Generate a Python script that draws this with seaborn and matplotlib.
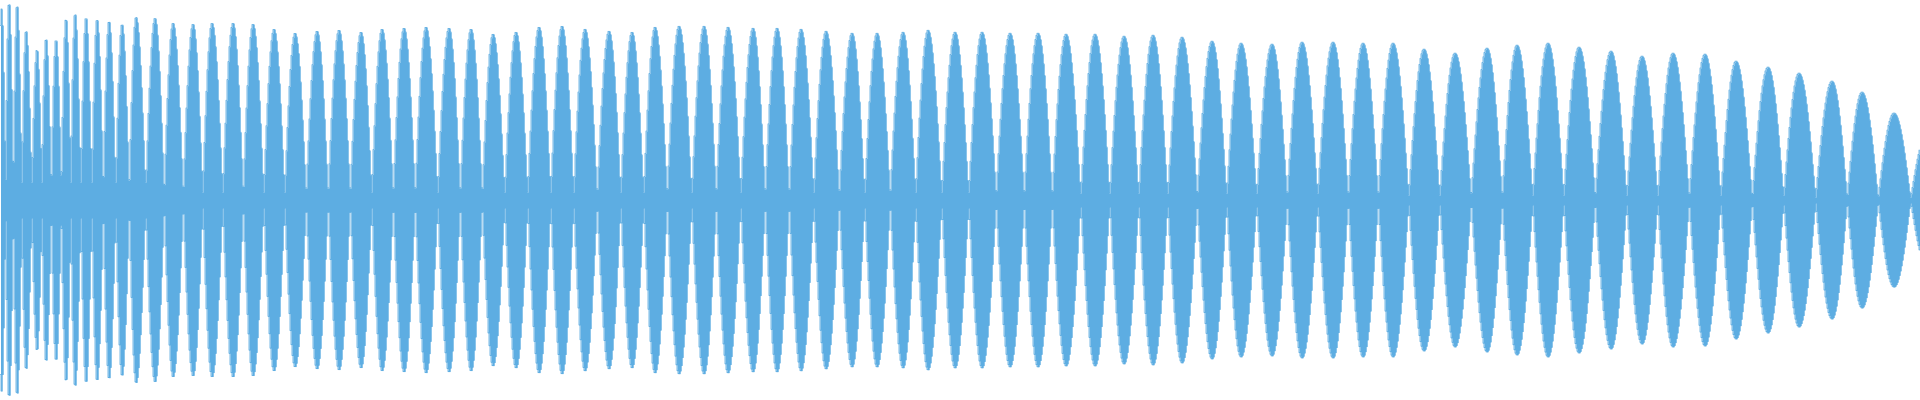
#!/usr/bin/env python3

""" Waveform envelope (per-column peak amplitude), symmetric around zero
"""

import numpy as np
import pandas as pd
import seaborn as sns
import matplotlib
matplotlib.use("Agg")
import matplotlib.pyplot as plt

#########################################################
### Data ###
#########################################################

# Column of each lobe's peak (pixel column, 0..1919)
lobe_x = [1.5, 9, 17, 26, 37, 46, 56, 66, 75, 86, 97, 109, 122, 136, 155,
          173, 193, 212, 233, 253, 274, 295, 317, 339, 361, 382, 404,
          426, 449, 471, 493, 516, 539, 562, 585, 609, 632, 655, 679,
          704, 728, 753, 777, 801,
          826, 852, 877, 903, 928, 955, 982,
          1010, 1038, 1066, 1095, 1124, 1153, 1182, 1212, 1241, 1272, 1302, 1333,
          1363, 1393, 1424, 1455, 1487, 1517, 1548, 1579, 1611, 1642, 1673, 1705,
          1736, 1768, 1799, 1832, 1862, 1894, 1927]

# Peak amplitude of each lobe (1.0 = full half-height)
lobe_amp = [0.955, 0.995, 0.98, 0.85, 0.755, 0.81, 0.805, 0.91, 0.935, 0.915, 0.905, 0.895, 0.88, 0.915, 0.91,
            0.885, 0.88, 0.885, 0.885, 0.88, 0.855, 0.835, 0.845, 0.85, 0.84, 0.855, 0.86,
            0.865, 0.86, 0.855, 0.83, 0.84, 0.865, 0.87, 0.855, 0.845, 0.84, 0.865, 0.87,
            0.87, 0.865, 0.86, 0.86, 0.855,
            0.845, 0.835, 0.835, 0.84, 0.85, 0.84, 0.84,
            0.835, 0.835, 0.83, 0.83, 0.82, 0.825, 0.815, 0.795, 0.785, 0.78, 0.79, 0.79,
            0.785, 0.785, 0.755, 0.735, 0.76, 0.775, 0.785, 0.765, 0.745, 0.72, 0.735, 0.73,
            0.695, 0.665, 0.635, 0.595, 0.54, 0.435, 0.33]

# Residual level between lobes, by stretch of the waveform
floor_start = [0, 160, 1000, 1350, 1800]
floor_amp = [0.09, 0.04, 0.035, 0.025, 0.015]

n_cols = 1920
wave_colour = "#5DADE2"

#########################################################
### Build per-column envelope ###
#########################################################

px = np.array(lobe_x, dtype=float)
pa = np.array(lobe_amp)
mids = (px[1:] + px[:-1]) / 2
bounds = np.concatenate([[px[0] - (px[1] - px[0]) / 2], mids,
                         [px[-1] + (px[-1] - px[-2]) / 2]])

cols = np.arange(n_cols) + 0.5
env = np.zeros(n_cols)
for k in range(len(px)):
    left, peak, right = bounds[k], px[k], bounds[k + 1]
    m = (cols >= left) & (cols < right)
    c = cols[m]
    frac = np.where(c < peak, (c - left) / (peak - left), (right - c) / (right - peak))
    env[m] = np.maximum(env[m], pa[k] * np.sin(np.pi / 2 * np.clip(frac, 0, 1)))

floor = np.array(floor_amp)[np.searchsorted(floor_start, cols, side="right") - 1]
env = np.maximum(env, floor)

wave = pd.DataFrame({"col": cols, "upper": env, "lower": -env})

#########################################################
### Plot ###
#########################################################

sns.set_theme(style="white")

fig = plt.figure(figsize=(19.2, 4), dpi=100, facecolor="white")
ax = fig.add_axes([0, 0, 1, 1])

ax.fill_between(wave["col"], wave["lower"], wave["upper"], step="mid",
                color=wave_colour, linewidth=0)
sns.lineplot(data=wave, x="col", y="upper", ax=ax, color=wave_colour,
             linewidth=0.6, drawstyle="steps-mid", estimator=None)
sns.lineplot(data=wave, x="col", y="lower", ax=ax, color=wave_colour,
             linewidth=0.6, drawstyle="steps-mid", estimator=None)

ax.set_xlim(0, n_cols)
ax.set_ylim(-1, 1)
ax.axis("off")

plt.savefig("out.png", dpi=100, facecolor="white")
